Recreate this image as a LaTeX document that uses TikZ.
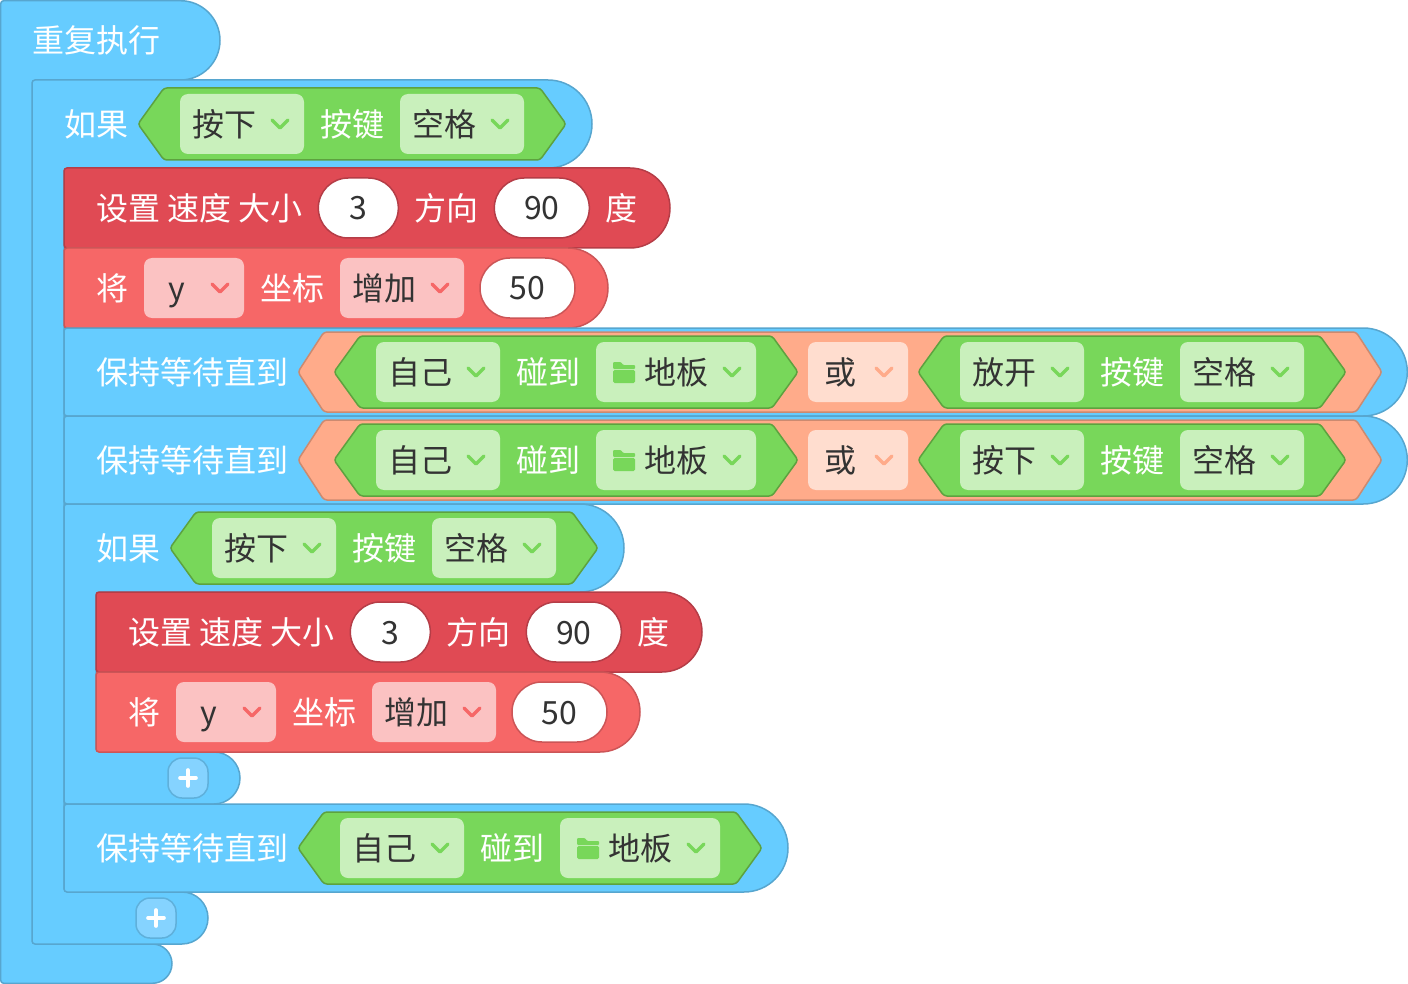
\documentclass[tikz,border=0pt]{standalone}
\usepackage{fontspec}
\setmainfont{Noto Sans CJK SC}
\usetikzlibrary{positioning}
\definecolor{blueblk}{HTML}{66CCFF}
\definecolor{blueline}{HTML}{57A6CF}
\definecolor{redblk}{HTML}{E04A54}
\definecolor{redline}{HTML}{B53D47}
\definecolor{pinkblk}{HTML}{F66767}
\definecolor{pinkline}{HTML}{CC5557}
\definecolor{greenblk}{HTML}{78D75A}
\definecolor{greenline}{HTML}{5DA23F}
\definecolor{orangeblk}{HTML}{FFAB8A}
\definecolor{orangeline}{HTML}{CC8A70}
\definecolor{greendrop}{HTML}{C9F0BC}
\definecolor{greenchev}{HTML}{78D75A}
\definecolor{pinkdrop}{HTML}{FBC2C2}
\definecolor{pinkchev}{HTML}{F66767}
\definecolor{orangedrop}{HTML}{FFDDCF}
\definecolor{orangechev}{HTML}{FFAB8A}
\definecolor{plusfill}{HTML}{85D3FF}
\definecolor{plusline}{HTML}{5FB0DB}
\definecolor{darktxt}{HTML}{333333}
\tikzset{
  bigfont/.style  = {font=\fontsize{32pt}{36pt}\selectfont},
  lbl/.style      = {bigfont,text=white,inner sep=0pt,outer sep=0pt,text height=28.4pt,text depth=3.6pt},
  droplbl/.style  = {lbl,text=darktxt},
  drop/.style     = {rounded corners=8pt,inner sep=0pt,outer sep=0pt,minimum height=60pt},
  chev/.style     = {line width=3.4pt,line cap=round,line join=round},
  numpill/.style  = {droplbl,fill=white,line width=1.5pt,rounded corners=29.9pt,minimum height=60pt,
                     text height=28pt,text depth=4pt},
  blueb/.style    = {draw=blueline,fill=blueblk,line width=1.5pt},
  redb/.style     = {draw=redline,fill=redblk,line width=1.5pt},
  pinkb/.style    = {draw=pinkline,fill=pinkblk,line width=1.5pt},
  greenb/.style   = {draw=greenline,fill=greenblk,line width=1.5pt,rounded corners=3pt},
  orangeb/.style  = {draw=orangeline,fill=orangeblk,line width=1.5pt,rounded corners=3pt},
  plusbtn/.style  = {draw=plusline,fill=plusfill,line width=1.5pt,rounded corners=14pt,
                     minimum width=40pt,minimum height=40pt,inner sep=0pt},
  pluscross/.style= {draw=white,line width=3.6pt,line cap=round},
}
% block with a round right end
\newcommand{\stackblk}[5]{%
  \pgfmathsetmacro{\rr}{(#5-#3)/2}
  \draw[#1] (#2,#3+3) arc[start angle=180,end angle=90,radius=3pt]
    -- (#4-\rr,#3) arc[start angle=90,end angle=-90,radius=\rr pt]
    -- (#2+3,#5) arc[start angle=270,end angle=180,radius=3pt] -- cycle;
}
% C shaped block: head, column 32 wide, foot
\newcommand{\cblk}[8]{%
  \pgfmathsetmacro{\rr}{(#5-#3)/2}
  \pgfmathsetmacro{\rf}{(#8-#6)/2}
  \draw[#1] (#2,#3+3) arc[start angle=180,end angle=90,radius=3pt]
    -- (#4-\rr,#3) arc[start angle=90,end angle=-90,radius=\rr pt]
    -- (#2+36,#5) arc[start angle=90,end angle=180,radius=4pt]
    -- (#2+32,#6-4) arc[start angle=180,end angle=270,radius=4pt]
    -- (#7-\rf,#6) arc[start angle=90,end angle=-90,radius=\rf pt]
    -- (#2+3,#8) arc[start angle=270,end angle=180,radius=3pt] -- cycle;
}
\newcommand{\hexblk}[4]{%
  \draw[#1] (-1,#4/2) -- (25,0) -- (#3-25,0) -- (#3+1,#4/2) -- (#3-25,#4) -- (25,#4) -- cycle;
}
% name, placement, width, colour kind, text centre, text
\newcommand{\dropdown}[6]{%
  \node[drop,fill=#4drop,minimum width=#3pt,#2] (#1) {};
  \node[droplbl] (#1t) at ([xshift=#5pt]#1.west) {#6};
  \draw[chev,draw=#4chev] ([shift={(-32,-4)}]#1.east) -- ([shift={(-24,4)}]#1.east) -- ([shift={(-16,-4)}]#1.east);
}
\newcommand{\plusmark}[3]{%
  \node[plusbtn] (#1) at (#2,#3) {};
  \draw[pluscross] ([xshift=-8pt]#1.center) -- ([xshift=8pt]#1.center);
  \draw[pluscross] ([yshift=-8pt]#1.center) -- ([yshift=8pt]#1.center);
}
\newcommand{\keycond}[4]{%
  \begin{scope}[shift={(#2,#3)}]
    \hexblk{greenb}{0}{426}{72}
    \dropdown{#1a}{anchor=west,at={(41,36)}}{124}{green}{44}{#4}
    \node[lbl,right=16pt of #1a] (#1b) {按键};
    \dropdown{#1c}{right=16pt of #1b}{124}{green}{44}{空格}
  \end{scope}
}
\newcommand{\touchcond}[3]{%
  \begin{scope}[shift={(#2,#3)}]
    \hexblk{greenb}{0}{462}{72}
    \dropdown{#1a}{anchor=west,at={(41,36)}}{124}{green}{44}{自己}
    \node[lbl,right=16pt of #1a] (#1b) {碰到};
    \dropdown{#1c}{right=16pt of #1b}{160}{green}{80}{地板}
    \begin{scope}[shift={(#1c.west)}]
      \fill[greenchev,rounded corners=1pt] (17,-10) -- (25,-10) -- (27,-7) -- (39,-7) -- (39,-3) -- (17,-3) -- cycle;
      \fill[greenchev,rounded corners=1.5pt] (17,-2) rectangle (39,11);
    \end{scope}
  \end{scope}
}
\newcommand{\orcond}[4]{%
  \begin{scope}[shift={(#2,#3)}]
    \hexblk{orangeb}{0}{1082}{80}
    \touchcond{#1a}{36}{4}
    \dropdown{#1b}{anchor=north west,at={(509,10)}}{100}{orange}{32}{或}
    \keycond{#1c}{620}{4}{#4}
  \end{scope}
}
\newcommand{\setrow}[3]{%
  \begin{scope}[shift={(#2,#3)}]
    \stackblk{redb}{0}{0}{606}{80}
    \node[lbl,anchor=west] (#1a) at (32,40) {设置 速度 大小};
    \node[numpill,draw=redline,minimum width=80pt,right=16pt of #1a] (#1b) {3};
    \node[lbl,right=16pt of #1b] (#1c) {方向};
    \node[numpill,draw=redline,minimum width=95pt,right=16pt of #1c] (#1d) {90};
    \node[lbl,right=16.5pt of #1d] (#1e) {度};
  \end{scope}
}
\newcommand{\addrow}[3]{%
  \begin{scope}[shift={(#2,#3)}]
    \stackblk{pinkb}{0}{0}{544}{80}
    \node[lbl,anchor=west] (#1a) at (32,40) {将};
    \dropdown{#1b}{right=16pt of #1a}{100}{pink}{33}{y}
    \node[lbl,right=16pt of #1b] (#1c) {坐标};
    \dropdown{#1d}{right=16pt of #1c}{124}{pink}{44}{增加}
    \node[numpill,draw=pinkline,minimum width=95pt,right=16pt of #1d] (#1e) {50};
  \end{scope}
}
\begin{document}
\begin{tikzpicture}[x=1pt,y=-1pt]
  \useasboundingbox (0,0) rectangle (1408,984);

  % Outer loop and first condition
  \cblk{blueb}{0.7}{0.7}{220}{80}{944}{172}{983.3}
  \node[lbl,anchor=west] (loop) at (32,40) {重复执行};
  \cblk{blueb}{32}{80}{592}{168}{892}{208}{944}
  \node[lbl,anchor=west] (iflbl) at (64,124) {如果};
  \keycond{ifkey}{139}{88}{按下}
  \setrow{seta}{64}{168}
  \addrow{adda}{64}{248}

  % Waiting blocks
  \stackblk{blueb}{64}{328}{1407.3}{416}
  \node[lbl,anchor=west] (waita) at (96,372) {保持等待直到};
  \orcond{ora}{299}{332}{放开}
  \stackblk{blueb}{64}{416}{1407.3}{504}
  \node[lbl,anchor=west] (waitb) at (96,460) {保持等待直到};
  \orcond{orb}{299}{420}{按下}

  % Inner condition
  \cblk{blueb}{64}{504}{624}{592}{752}{240}{804}
  \node[lbl,anchor=west] (iflblb) at (96,548) {如果};
  \keycond{ifkeyb}{171}{512}{按下}
  \setrow{setb}{96}{592}
  \addrow{addb}{96}{672}
  \plusmark{plusa}{188}{778}

  \stackblk{blueb}{64}{804}{788}{892}
  \node[lbl,anchor=west] (waitc) at (96,848) {保持等待直到};
  \touchcond{tch}{299}{812}
  \plusmark{plusb}{156}{918}
\end{tikzpicture}
\end{document}
